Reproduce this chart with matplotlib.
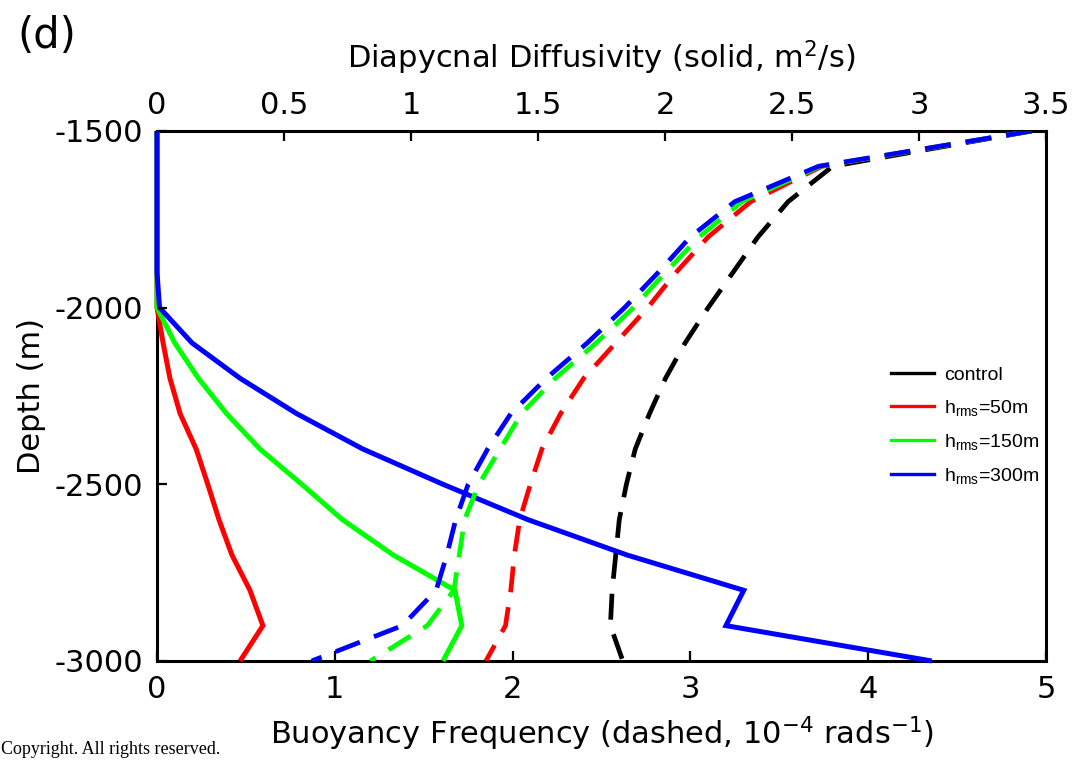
import matplotlib
matplotlib.use("Agg")
import matplotlib.pyplot as plt
from matplotlib.lines import Line2D

plt.rcParams['font.family'] = ['DejaVu Sans']
plt.rcParams['axes.unicode_minus'] = False

# depth levels (m)
depth = [-1500, -1600, -1700, -1800, -1900, -2000, -2100, -2200,
         -2300, -2400, -2500, -2600, -2700, -2800, -2900, -3000]

# diapycnal diffusivity (solid, top axis)
kappa_50 = [0, 0, 0, 0, 0, 0, 0.024, 0.051, 0.091, 0.154, 0.20, 0.244, 0.295, 0.366, 0.417, 0.327]
kappa_150 = [0, 0, 0, 0, 0, 0, 0.07, 0.163, 0.274, 0.405, 0.57, 0.73, 0.93, 1.173, 1.20, 1.126]
kappa_300 = [0, 0, 0, 0, 0, 0.01, 0.138, 0.327, 0.55, 0.81, 1.126, 1.46, 1.85, 2.31, 2.24, 3.05]

# buoyancy frequency (dashed, bottom axis)
N_control = [4.92, 3.80, 3.55, 3.38, 3.24, 3.10, 2.97, 2.86, 2.77, 2.69, 2.64, 2.60, 2.58, 2.56, 2.55, 2.62]
N_50 = [4.92, 3.74, 3.34, 3.10, 2.92, 2.76, 2.58, 2.40, 2.27, 2.165, 2.10, 2.04, 2.01, 1.99, 1.96, 1.85]
N_150 = [4.92, 3.73, 3.29, 3.05, 2.86, 2.68, 2.47, 2.24, 2.05, 1.93, 1.81, 1.73, 1.70, 1.67, 1.52, 1.20]
N_300 = [4.92, 3.72, 3.25, 3.00, 2.82, 2.63, 2.42, 2.19, 1.99, 1.86, 1.75, 1.68, 1.63, 1.57, 1.38, 0.87]

labels = ['control', r'h$\mathregular{_{rms}}$=50m',
          r'h$\mathregular{_{rms}}$=150m', r'h$\mathregular{_{rms}}$=300m']
colors = ['#000000', '#ff0000', '#00ff00', '#0000ff']

fig = plt.figure(figsize=(10.88, 7.6), dpi=100)
ax = fig.add_axes([0.1443, 0.1303, 0.8171, 0.6974])
ax2 = ax.twiny()

# solid lines on the top (diffusivity) axis, drawn over the frame
for k, c in zip([kappa_50, kappa_150, kappa_300], colors[1:]):
    ax2.plot(k, depth, color=c, lw=3.6, solid_joinstyle='miter',
             solid_capstyle='butt', clip_on=False, zorder=3)

# dashed lines on the bottom (buoyancy) axis, drawn above the solid ones
for n, c in zip([N_control, N_50, N_150, N_300], colors):
    ax.plot(n, depth, color=c, lw=3.4, dashes=(5.5, 3.2))

ax.set_zorder(ax2.get_zorder() + 1)
ax.patch.set_visible(False)

ax.set_xlim(0, 5)
ax.set_ylim(-3000, -1500)
ax2.set_xlim(0, 3.5)
ax.set_xticks([0, 1, 2, 3, 4, 5])
ax.set_xticklabels(['0', '1', '2', '3', '4', '5'])
ax.set_yticks([-3000, -2500, -2000, -1500])
ax2.set_xticks([0, 0.5, 1, 1.5, 2, 2.5, 3, 3.5])
ax2.set_xticklabels(['0', '0.5', '1', '1.5', '2', '2.5', '3', '3.5'])

ax.tick_params(axis='both', direction='in', length=7, width=1.6, labelsize=22, pad=10)
ax.tick_params(axis='y', right=False)
ax2.tick_params(axis='x', direction='in', length=7, width=1.6, labelsize=22, pad=8)

for s in ax.spines.values():
    s.set_visible(False)
for s in ax2.spines.values():
    s.set_linewidth(2.2)

ax.set_xlabel('Buoyancy Frequency (dashed, 10$\\mathregular{^{-4}}$ rads$\\mathregular{^{-1}}$)',
              fontsize=22, labelpad=8)
ax2.set_xlabel('Diapycnal Diffusivity (solid, m$\\mathregular{^2}$/s)', fontsize=22, labelpad=16)
ax.set_ylabel('Depth (m)', fontsize=22, labelpad=6)

handles = [Line2D([], [], color=c, lw=2.4) for c in colors]
ax.legend(handles, labels, loc='upper left', bbox_to_anchor=(0.815, 0.575),
          frameon=False, prop={'family': 'Liberation Sans', 'size': 14},
          handlelength=2.2, handletextpad=0.5, labelspacing=0.72, borderpad=0)

fig.text(0.016, 0.952, '(d)', fontsize=30, va='center')
fig.text(0.001, 0.003, 'Copyright. All rights reserved.', fontsize=13,
         family='Liberation Serif', va='bottom')

fig.savefig('out.png', dpi=100)
